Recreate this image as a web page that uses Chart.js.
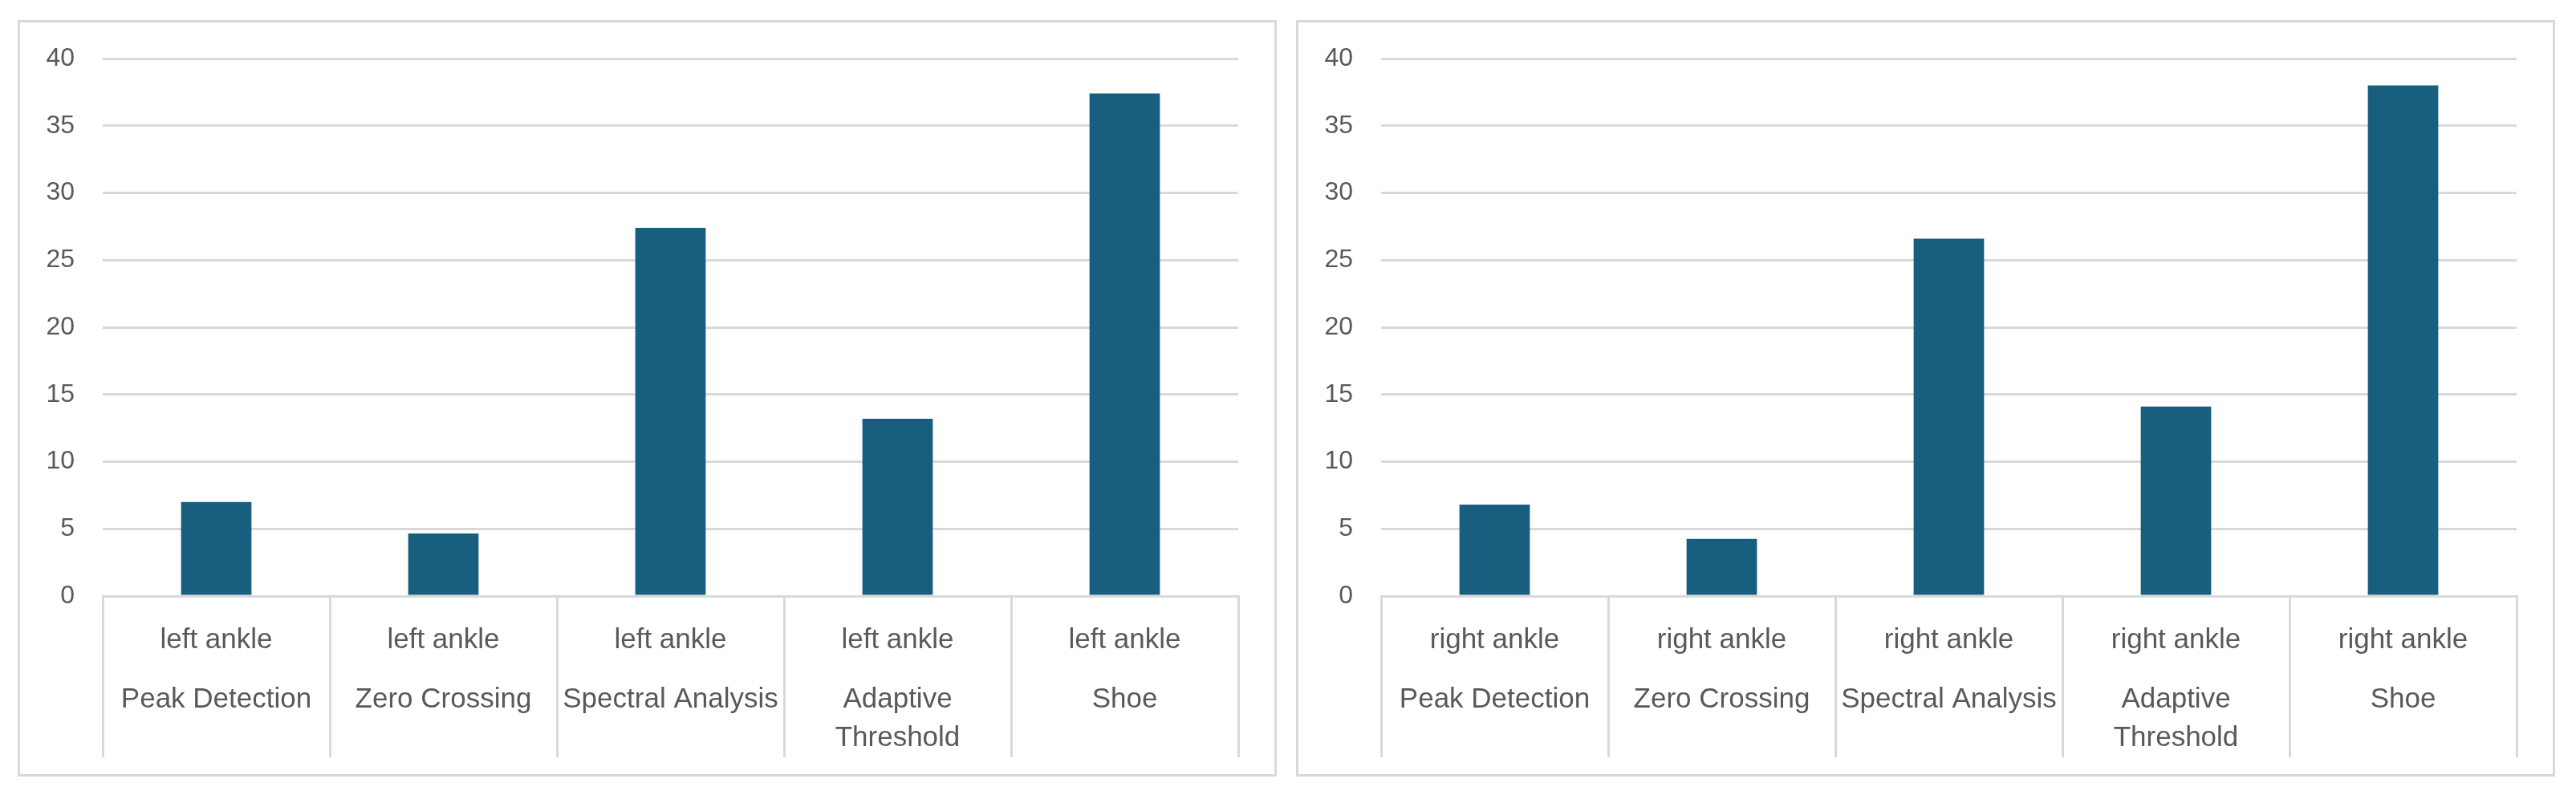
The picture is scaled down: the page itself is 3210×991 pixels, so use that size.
<!DOCTYPE html>
<html>
<head>
<meta charset="utf-8">
<title>Step detection by method - left and right ankle</title>
<script src="https://cdn.jsdelivr.net/npm/chart.js@4.4.1/dist/chart.umd.min.js"></script>
<style>
    html, body { margin: 0; padding: 0; background: #fff; }
    body { width: 3210px; height: 991px; position: relative; overflow: hidden; }
    .chart-box {
        position: absolute;
        top: 25px;
        width: 1569px;
        height: 943px;
        border: 3px solid #d9d9d9;
        box-sizing: border-box;
        background: #fff;
    }
    #box-left { left: 22px; }
    #box-right { left: 1615px; }
    .chart-box canvas { display: block; }
</style>
</head>
<body>
<div class="chart-box" id="box-left"><canvas id="chartLeft" width="1563" height="937"></canvas></div>
<div class="chart-box" id="box-right"><canvas id="chartRight" width="1563" height="937"></canvas></div>

<script>
// Data
const methods = ['Peak Detection', 'Zero Crossing', 'Spectral Analysis', 'Adaptive Threshold', 'Shoe'];
const leftSensor = 'left ankle';
const rightSensor = 'right ankle';
const leftAnkleValues = [7.0, 4.65, 27.4, 13.2, 37.4];
const rightAnkleValues = [6.8, 4.25, 26.6, 14.1, 38.0];
const yAxisMin = 0;
const yAxisMax = 40;
const yAxisStep = 5;

// Styling
const barColor = '#175e7f';
const gridColor = '#d9d9d9';
const textColor = '#595959';
const tickFont = { family: 'Liberation Sans, Arial, sans-serif', size: 32 };
const labelFont = '35px "Liberation Sans", Arial, sans-serif';

/**
 * Split a label into lines that fit in the given width
 */
function wrapText(ctx, text, maxWidth) {
    const words = text.split(' ');
    const lines = [];
    let line = '';
    words.forEach(word => {
        const test = line ? line + ' ' + word : word;
        if (line && ctx.measureText(test).width > maxWidth) {
            lines.push(line);
            line = word;
        } else {
            line = test;
        }
    });
    if (line) lines.push(line);
    return lines;
}

/**
 * Two-level category labels (sensor on top, method below)
 */
const categoryLabels = {
    id: 'categoryLabels',
    afterDraw(chart, args, opts) {
        const { ctx, chartArea } = chart;
        const x = chart.scales.x;
        const count = chart.data.labels.length;
        const maxWidth = (x.width / count) - 6;

        ctx.save();
        ctx.fillStyle = textColor;
        ctx.font = labelFont;
        ctx.textAlign = 'center';
        ctx.textBaseline = 'alphabetic';

        chart.data.labels.forEach((label, i) => {
            const cx = x.getPixelForValue(i);
            ctx.fillText(opts.sensor, cx, chartArea.bottom + 65);
            wrapText(ctx, label, maxWidth).forEach((line, j) => {
                ctx.fillText(line, cx, chartArea.bottom + 139 + j * 48);
            });
        });
        ctx.restore();
    }
};

/**
 * Build one bar chart
 */
function buildChart(canvasId, sensor, values) {
    const canvas = document.getElementById(canvasId);
    return new Chart(canvas, {
        type: 'bar',
        data: {
            labels: methods,
            datasets: [{
                data: values,
                backgroundColor: barColor,
                borderWidth: 0,
                barPercentage: 1,
                categoryPercentage: 0.31
            }]
        },
        options: {
            responsive: false,
            animation: false,
            events: [],
            layout: {
                padding: { top: 45, right: 45, bottom: 21, left: 0 }
            },
            plugins: {
                legend: { display: false },
                tooltip: { enabled: false },
                categoryLabels: { sensor: sensor }
            },
            scales: {
                x: {
                    grid: {
                        offset: true,
                        drawOnChartArea: false,
                        drawTicks: true,
                        tickLength: 201,
                        color: gridColor,
                        lineWidth: 3
                    },
                    border: { display: true, color: gridColor, width: 3 },
                    ticks: { display: false }
                },
                y: {
                    min: yAxisMin,
                    max: yAxisMax,
                    ticks: {
                        stepSize: yAxisStep,
                        padding: 35,
                        color: textColor,
                        font: tickFont
                    },
                    grid: { color: gridColor, lineWidth: 3, drawTicks: false },
                    border: { display: false },
                    afterFit: (scale) => {
                        // fixed axis width, let layout padding set the top
                        scale.width = 103;
                        scale.paddingTop = 0;
                        scale.paddingBottom = 0;
                    }
                }
            }
        },
        plugins: [categoryLabels]
    });
}

buildChart('chartLeft', leftSensor, leftAnkleValues);
buildChart('chartRight', rightSensor, rightAnkleValues);
</script>
</body>
</html>
